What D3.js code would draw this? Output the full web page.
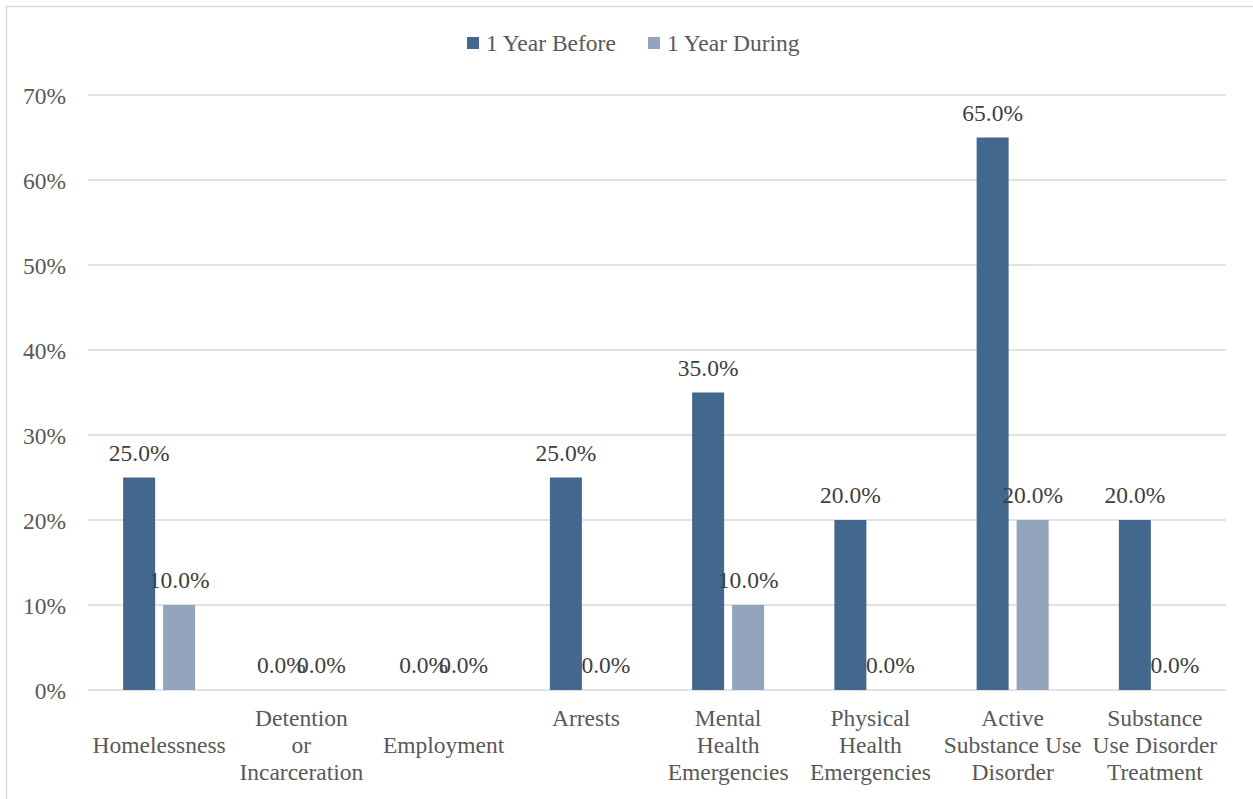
<!DOCTYPE html>
<html>
<head>
<meta charset="utf-8">
<script src="https://cdn.jsdelivr.net/npm/d3@7"></script>
<style>
  html, body { margin: 0; padding: 0; background: #fff; }
  svg { display: block; }
</style>
</head>
<body>
<svg id="chart" width="1253" height="799"></svg>
<script>
// Outcome rates one year before vs. one year during the program
const categories = [
  "Homelessness",
  "Detention or Incarceration",
  "Employment",
  "Arrests",
  "Mental Health Emergencies",
  "Physical Health Emergencies",
  "Active Substance Use Disorder",
  "Substance Use Disorder Treatment"
];
const categoryLines = [
  ["Homelessness"],
  ["Detention", "or", "Incarceration"],
  ["Employment"],
  ["Arrests"],
  ["Mental", "Health", "Emergencies"],
  ["Physical", "Health", "Emergencies"],
  ["Active", "Substance Use", "Disorder"],
  ["Substance", "Use Disorder", "Treatment"]
];
const seriesNames = ["1 Year Before", "1 Year During"];
const yearBefore = [25, 0, 0, 25, 35, 20, 65, 20];
const yearDuring = [10, 0, 0, 0, 10, 0, 20, 0];
const yTicks = [0, 10, 20, 30, 40, 50, 60, 70];
const seriesColors = ["#43688d", "#93a5bd"];
// single-line labels that sit on the middle row
const middleRowLabels = new Set(["Homelessness", "Employment"]);

const FONT = "'Liberation Serif'";
const svg = d3.select("#chart").style("font-family", FONT);
const W = 1253, H = 799;
const plot = { left: 88, right: 1226, top: 95, bottom: 690 };
const fontSize = 23.5;

// outer frame
svg.append("rect")
  .attr("x", 6.5).attr("y", 6.5)
  .attr("width", W + 20).attr("height", H + 20)
  .attr("fill", "#fff").attr("stroke", "#d9d9d9").attr("stroke-width", 1.5);

const x0 = d3.scaleBand().domain(categories).range([plot.left, plot.right]).padding(0);
const bw = x0.bandwidth();
const x1 = d3.scaleBand().domain(seriesNames)
  .range([bw / 2 - 36, bw / 2 + 36]).paddingInner(0.2).paddingOuter(0);
const y = d3.scaleLinear().domain([0, 70]).range([plot.bottom, plot.top]);

// gridlines
svg.append("g").selectAll("line").data(yTicks).join("line")
  .attr("x1", plot.left).attr("x2", plot.right)
  .attr("y1", d => y(d)).attr("y2", d => y(d))
  .attr("stroke", "#d9d9d9").attr("stroke-width", 1.4);

// y axis labels
const yAxis = d3.axisLeft(y).tickValues(yTicks).tickFormat(d => d + "%").tickSize(0).tickPadding(0);
const gy = svg.append("g").attr("transform", `translate(66,0)`).call(yAxis);
gy.select(".domain").remove();
gy.attr("font-family", null).attr("font-size", fontSize);
gy.selectAll("text").style("font-family", FONT)
  .attr("font-size", fontSize).attr("fill", "#595959").attr("dy", "0.35em");

// bars
const rows = categories.map((c, i) => ({ cat: c, vals: [yearBefore[i], yearDuring[i]] }));
const groups = svg.append("g").selectAll("g").data(rows).join("g")
  .attr("transform", d => `translate(${x0(d.cat)},0)`);

groups.selectAll("rect")
  .data(d => d.vals.map((v, k) => ({ s: seriesNames[k], v, k })))
  .join("rect")
  .attr("x", d => x1(d.s))
  .attr("width", x1.bandwidth())
  .attr("y", d => y(d.v))
  .attr("height", d => y(0) - y(d.v))
  .attr("fill", d => seriesColors[d.k]);

// value labels
groups.selectAll("text.val")
  .data(d => d.vals.map((v, k) => ({ s: seriesNames[k], v, k })))
  .join("text").attr("class", "val")
  .style("font-family", FONT)
  .attr("x", d => x1(d.s) + x1.bandwidth() / 2)
  .attr("y", d => y(d.v) - 17)
  .attr("text-anchor", "middle")
  .attr("font-size", fontSize).attr("fill", "#404040")
  .text(d => d.v.toFixed(1) + "%");

// category labels
const lineH = 27;
const catG = svg.append("g");
categories.forEach((c, i) => {
  const lines = categoryLines[i];
  const startRow = middleRowLabels.has(c) ? 1 : 0;
  const t = catG.append("text").style("font-family", FONT)
    .attr("text-anchor", "middle")
    .attr("font-size", fontSize).attr("fill", "#595959");
  lines.forEach((ln, j) => {
    t.append("tspan")
      .attr("x", x0(c) + bw / 2)
      .attr("y", 718 + (startRow + j) * lineH)
      .attr("dy", "0.35em")
      .text(ln);
  });
});

// legend
const legendItems = [
  { name: seriesNames[0], color: seriesColors[0], x: 467 },
  { name: seriesNames[1], color: seriesColors[1], x: 648 }
];
const lg = svg.append("g");
legendItems.forEach(it => {
  lg.append("rect").attr("x", it.x).attr("y", 37).attr("width", 12).attr("height", 12).attr("fill", it.color);
  lg.append("text").style("font-family", FONT).attr("x", it.x + 19).attr("y", 43).attr("dy", "0.35em")
    .attr("font-size", fontSize).attr("fill", "#595959").text(it.name);
});
</script>
</body>
</html>
